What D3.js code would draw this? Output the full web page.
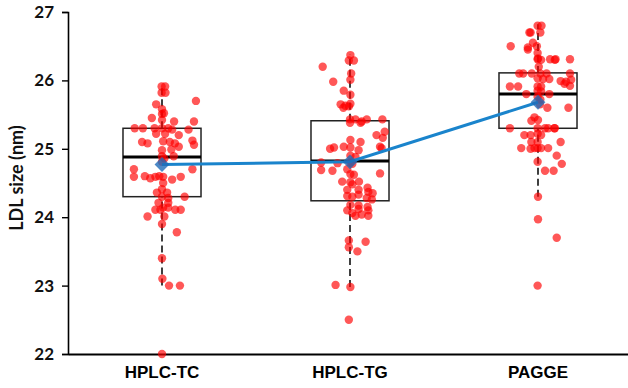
<!DOCTYPE html>
<html>
<head>
<meta charset="utf-8">
<script src="https://cdn.jsdelivr.net/npm/d3@7"></script>
<style>
  body { margin: 0; background: #fff; }
  svg { display: block; }
</style>
</head>
<body>
<svg id="boxplot" width="628" height="388"></svg>
<script>
// categories and the y ticks
const categories = ["HPLC-TC", "HPLC-TG", "PAGGE"];
const yTicks = [22, 23, 24, 25, 26, 27];

// box summaries per category: [whiskerLow, q1, median, q3, whiskerHigh]
const boxStats = [
    [23.00, 24.30, 24.88, 25.30, 25.92],
    [22.98, 24.24, 24.82, 25.41, 26.38],
    [24.30, 25.30, 25.80, 26.11, 26.82]
];

// group means (blue line)
const means = [24.77, 24.81, 25.68];

// raw points per group: [jitter (-1..1), LDL size]
const pointsTC = [
    [-0.01,25.91],[0.08,25.91],[-0.01,25.82],[0.09,25.82],[0.87,25.70],[-0.15,25.65],[0.0,25.58],[0.0,25.51],[0.05,25.52],[-0.26,25.45],[0.0,25.42],[0.31,25.40],[0.82,25.40],
    [-0.70,25.30],[-0.49,25.30],[-0.19,25.30],[0.0,25.30],[0.16,25.30],[0.26,25.28],[0.68,25.28],
    [-0.15,25.22],[0.08,25.22],[0.43,25.20],
    [-0.51,25.10],[-0.37,25.08],[0.03,25.11],[0.20,25.10],[0.33,25.08],[0.78,25.12],[0.82,25.06],[0.43,25.03],
    [0.0,24.98],[0.24,24.99],
    [0.0,24.89],[0.30,24.89],[0.06,24.86],
    [0.0,24.81],
    [-0.72,24.70],[0.78,24.70],
    [-0.72,24.59],[-0.44,24.60],[-0.30,24.57],[-0.17,24.59],[-0.07,24.60],[0.03,24.59],[0.26,24.55],[0.48,24.59],
    [0.03,24.50],[0.0,24.41],
    [-0.13,24.36],[0.13,24.36],
    [0.58,24.30],[0.0,24.30],[0.16,24.28],
    [-0.09,24.21],[0.16,24.21],
    [-0.17,24.11],[-0.04,24.11],[0.03,24.14],[0.16,24.14],[0.34,24.11],[0.48,24.11],
    [-0.37,24.01],[0.06,24.01],
    [0.0,23.90],[0.38,23.78],[0.0,23.40],[0.01,23.10],[0.18,23.00],[0.46,23.00],[0.0,22.00]
];

const pointsTG = [
    [0.01,26.37],[-0.03,26.29],[0.10,26.29],[-0.70,26.20],[0.03,26.10],[0.01,26.01],[-0.43,25.98],[-0.16,25.85],[0.01,25.79],
    [-0.24,25.65],[0.01,25.66],[-0.17,25.60],[-0.03,25.62],[-0.12,25.63],
    [0.0,25.43],[0.14,25.43],[0.30,25.40],[0.43,25.43],[0.83,25.43],[0.0,25.38],[0.27,25.38],
    [0.89,25.25],[0.68,25.20],[0.84,25.16],
    [0.01,25.13],[0.27,25.10],
    [-0.16,25.03],[-0.41,25.02],[-0.51,25.00],[0.01,25.02],[0.22,24.98],[0.77,25.03],[0.81,25.01],
    [0.01,24.90],[0.14,24.88],
    [-0.74,24.80],[-0.32,24.79],[0.01,24.80],[0.06,24.78],
    [-0.74,24.69],[-0.45,24.68],[-0.07,24.70],
    [0.01,24.63],[0.10,24.62],[0.77,24.64],
    [-0.20,24.52],[0.01,24.51],[0.23,24.52],[0.06,24.48],
    [-0.07,24.40],[0.22,24.40],[0.45,24.43],[0.47,24.37],[0.58,24.35],
    [-0.07,24.31],[0.06,24.30],[0.22,24.33],[0.43,24.28],[0.56,24.26],
    [0.01,24.18],[0.22,24.17],[0.45,24.15],
    [-0.07,24.10],[0.06,24.06],[0.22,24.12],[0.47,24.10],[0.30,24.04],[0.47,24.02],[0.14,24.02],
    [-0.03,23.66],[0.40,23.64],[-0.03,23.56],[0.19,23.50],
    [-0.37,23.01],[0.01,22.98],[-0.03,22.50]
];

const pointsPAGGE = [
    [-0.01,26.80],[0.09,26.80],[-0.19,26.70],[0.06,26.70],[-0.22,26.70],[-0.70,26.50],[-0.26,26.48],[-0.13,26.55],[-0.03,26.50],[-0.26,26.45],
    [-0.01,26.40],[0.0,26.32],[-0.01,26.31],[0.08,26.30],[0.31,26.31],[0.45,26.31],[0.82,26.31],[0.43,26.30],
    [0.02,26.20],
    [-0.48,26.10],[-0.38,26.10],[-0.16,26.10],[0.06,26.10],[0.22,26.10],[0.82,26.10],
    [-0.01,26.03],[0.13,26.02],[0.29,26.02],[0.58,25.99],[0.72,25.98],[0.85,26.01],[0.68,25.95],[0.82,25.92],
    [-0.72,25.91],[-0.51,25.91],[-0.01,25.91],[0.08,25.91],
    [-0.01,25.85],[0.08,25.84],
    [-0.30,25.80],[0.29,25.80],[-0.01,25.76],[0.06,25.72],
    [0.78,25.60],[0.24,25.60],[0.05,25.65],
    [-0.09,25.46],[-0.17,25.41],[0.0,25.42],
    [0.42,25.30],[-0.01,25.30],[0.18,25.30],[0.26,25.30],[0.43,25.30],[-0.72,25.30],
    [-0.35,25.20],[-0.19,25.20],[-0.01,25.22],[0.08,25.20],
    [-0.17,25.10],[-0.01,25.10],[0.58,25.10],
    [-0.43,25.01],[-0.19,25.00],[-0.09,25.01],[-0.01,25.01],[0.08,25.01],[0.26,25.01],
    [0.48,24.90],[-0.01,24.81],[0.61,24.78],[0.18,24.68],[0.40,24.68],
    [0.0,24.30],[0.0,23.97],[0.48,23.70],[-0.01,23.00]
];

const pointGroups = [pointsTC, pointsTG, pointsPAGGE];


class BoxPlot {
    constructor(svg_element_id) {
        this.svg = d3.select('#' + svg_element_id);
        this.width = document.getElementById(svg_element_id).width.baseVal.value;
        this.height = document.getElementById(svg_element_id).height.baseVal.value;
        this.margin = ({
            top: 12,
            right: -4,
            bottom: 34,
            left: 68
        });
    }

    draw() {
        const svg = this.svg;
        const m = this.margin;

        const x = d3.scaleBand()
            .domain(categories)
            .range([m.left, this.width - m.right])
            .padding(0);

        const y = d3.scaleLinear()
            .domain([22, 27])
            .range([this.height - m.bottom, m.top]);

        const boxW = x.bandwidth() * 0.415;
        const jitter = d3.scaleLinear().domain([-1, 1]).range([-boxW / 2, boxW / 2]);
        const cx = i => x(categories[i]) + x.bandwidth() / 2;

        // y axis
        svg.append("g")
            .attr("transform", `translate(${m.left},0)`)
            .call(d3.axisLeft(y).tickValues(yTicks).tickSize(6).tickPadding(8).tickFormat(d3.format("d")))
            .call(g => g.select(".domain").attr("stroke", "#000").attr("stroke-width", 1.6))
            .call(g => g.selectAll(".tick line").attr("stroke", "#000").attr("stroke-width", 1.4))
            .call(g => g.selectAll(".tick text")
                .attr("font-family", "Lato, 'Open Sans', sans-serif")
                .attr("font-weight", "bold")
                .attr("font-size", 17)
                .attr("fill", "#111"));

        // x axis
        svg.append("g")
            .attr("transform", `translate(0,${y(22)})`)
            .call(d3.axisBottom(x).tickSize(0).tickPadding(12))
            .call(g => g.select(".domain").attr("stroke", "#000").attr("stroke-width", 2))
            .call(g => g.selectAll(".tick text")
                .attr("font-family", "'Liberation Sans', Arial, sans-serif")
                .attr("font-weight", "bold")
                .attr("font-size", 17)
                .attr("fill", "#000"));

        svg.append("text")
            .attr("transform", `translate(23,${(y(22) + y(27)) / 2 - 5}) rotate(-90)`)
            .attr("text-anchor", "middle")
            .attr("font-family", "Lato, 'Open Sans', sans-serif")
            .attr("font-weight", "bold")
            .attr("font-size", 18)
            .attr("fill", "#111")
            .text("LDL size (nm)");

        // whiskers
        const boxes = svg.append("g")
            .selectAll("g")
            .data(boxStats)
            .join("g");

        boxes.append("line")
            .attr("x1", (d, i) => cx(i)).attr("x2", (d, i) => cx(i))
            .attr("y1", d => y(d[0])).attr("y2", d => y(d[1]))
            .attr("stroke", "#000").attr("stroke-width", 1.5)
            .attr("stroke-dasharray", "7,4");

        boxes.append("line")
            .attr("x1", (d, i) => cx(i)).attr("x2", (d, i) => cx(i))
            .attr("y1", d => y(d[3])).attr("y2", d => y(d[4]))
            .attr("stroke", "#000").attr("stroke-width", 1.5)
            .attr("stroke-dasharray", "7,4");

        boxes.append("rect")
            .attr("x", (d, i) => cx(i) - boxW / 2)
            .attr("width", boxW)
            .attr("y", d => y(d[3]))
            .attr("height", d => y(d[1]) - y(d[3]))
            .attr("fill", "none")
            .attr("stroke", "#222")
            .attr("stroke-width", 1.5);

        boxes.append("line")
            .attr("x1", (d, i) => cx(i) - boxW / 2).attr("x2", (d, i) => cx(i) + boxW / 2)
            .attr("y1", d => y(d[2])).attr("y2", d => y(d[2]))
            .attr("stroke", "#000").attr("stroke-width", 3);

        // raw points
        pointGroups.forEach((pts, i) => {
            svg.append("g")
                .selectAll("circle")
                .data(pts)
                .join("circle")
                .attr("cx", d => cx(i) + jitter(d[0]))
                .attr("cy", d => y(d[1]))
                .attr("r", 4.2)
                .attr("fill", "#ff0000")
                .attr("fill-opacity", 0.66);
        });

        // mean line + diamonds
        const line = d3.line()
            .x((d, i) => cx(i))
            .y(d => y(d));

        svg.append("path")
            .datum(means)
            .attr("fill", "none")
            .attr("stroke", "#1a84cc")
            .attr("stroke-width", 3)
            .attr("d", line);

        svg.append("g")
            .selectAll("path")
            .data(means)
            .join("path")
            .attr("transform", (d, i) => `translate(${cx(i)},${y(d)}) rotate(45)`)
            .attr("d", d3.symbol().type(d3.symbolSquare).size(110))
            .attr("fill", "#1f6cb8")
            .attr("fill-opacity", 0.8);
    }
}

function whenDocumentLoaded(action) {
    if (document.readyState === "loading") {
        document.addEventListener("DOMContentLoaded", action);
    } else {
        action();
    }
}

whenDocumentLoaded(() => {
    boxplot = new BoxPlot('boxplot');
    boxplot.draw();
});
</script>
</body>
</html>
